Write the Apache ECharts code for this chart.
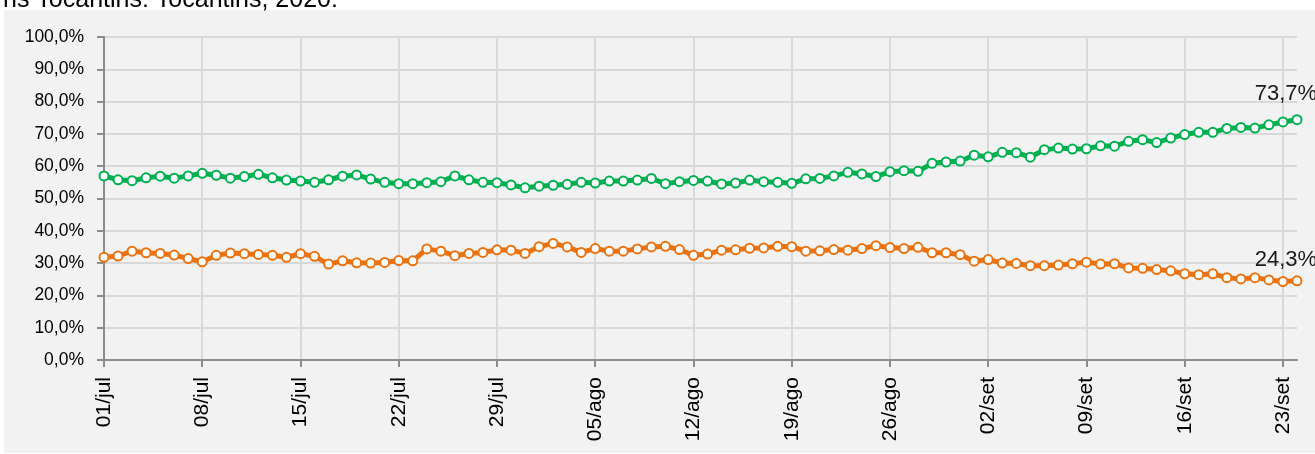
<!DOCTYPE html>
<html>
<head>
<meta charset="utf-8">
<script src="https://cdn.jsdelivr.net/npm/echarts@6/dist/echarts.min.js"></script>
<style>
html,body{margin:0;padding:0;background:#ffffff;}
#panel{position:absolute;left:4px;top:10px;width:1311px;height:443px;background:#f2f2f2;}
#chart{position:absolute;left:0;top:0;width:1315px;height:454px;}
</style>
</head>
<body>
<div id="panel"></div>
<div id="chart"></div>
<script>
var titleText = 'ns Tocantins: Tocantins, 2020:';

var categories = [
 '01/jul','02/jul','03/jul','04/jul','05/jul','06/jul','07/jul','08/jul','09/jul','10/jul',
 '11/jul','12/jul','13/jul','14/jul','15/jul','16/jul','17/jul','18/jul','19/jul','20/jul',
 '21/jul','22/jul','23/jul','24/jul','25/jul','26/jul','27/jul','28/jul','29/jul','30/jul','31/jul',
 '01/ago','02/ago','03/ago','04/ago','05/ago','06/ago','07/ago','08/ago','09/ago','10/ago',
 '11/ago','12/ago','13/ago','14/ago','15/ago','16/ago','17/ago','18/ago','19/ago','20/ago',
 '21/ago','22/ago','23/ago','24/ago','25/ago','26/ago','27/ago','28/ago','29/ago','30/ago','31/ago',
 '01/set','02/set','03/set','04/set','05/set','06/set','07/set','08/set','09/set','10/set',
 '11/set','12/set','13/set','14/set','15/set','16/set','17/set','18/set','19/set','20/set',
 '21/set','22/set','23/set','24/set'
];

var greenSeries = [
 57.0,55.8,55.5,56.4,56.9,56.3,57.0,57.8,57.2,56.3,
 56.8,57.5,56.4,55.7,55.4,55.0,55.8,56.9,57.3,56.0,
 55.0,54.6,54.6,54.9,55.2,57.0,55.8,55.0,54.9,54.2,
 53.3,53.8,54.1,54.4,55.0,54.8,55.4,55.4,55.7,56.2,
 54.6,55.2,55.6,55.4,54.5,54.8,55.7,55.2,55.0,54.7,
 56.1,56.2,57.0,58.1,57.6,56.8,58.3,58.6,58.4,60.9,
 61.3,61.6,63.4,62.9,64.3,64.2,62.8,65.1,65.6,65.3,
 65.4,66.3,66.2,67.7,68.2,67.3,68.7,69.8,70.5,70.5,
 71.7,72.0,71.8,72.8,73.7,74.4
];

var orangeSeries = [
 31.8,32.2,33.7,33.2,33.0,32.5,31.4,30.4,32.4,33.1,
 32.9,32.7,32.4,31.8,32.9,32.1,29.7,30.7,30.1,30.0,
 30.2,30.8,30.7,34.4,33.7,32.3,33.0,33.3,34.1,34.0,
 33.0,35.1,36.1,35.0,33.3,34.5,33.7,33.7,34.4,35.0,
 35.2,34.2,32.4,32.8,34.0,34.1,34.6,34.7,35.2,35.1,
 33.7,33.8,34.2,34.0,34.5,35.4,34.8,34.5,34.9,33.2,
 33.2,32.6,30.6,31.1,30.0,29.9,29.2,29.2,29.4,29.8,
 30.3,29.7,29.8,28.5,28.4,28.0,27.6,26.7,26.4,26.7,
 25.5,25.1,25.5,24.8,24.3,24.5
];

var labelIndex = 84;
var greenLabel = '73,7%';
var orangeLabel = '24,3%';

var FONT = 'Liberation Sans';
var chart = echarts.init(document.getElementById('chart'), null, {renderer: 'canvas'});

function mkSeries(data, color, text, dist) {
  return {
    type: 'line',
    data: data,
    smooth: false,
    symbol: 'circle',
    symbolSize: 9,
    lineStyle: {color: color, width: 5},
    itemStyle: {color: '#ffffff', borderColor: color, borderWidth: 2},
    label: {
      show: true,
      position: 'top',
      distance: dist,
      offset: [3, 0],
      fontFamily: FONT,
      fontSize: 22,
      color: '#1a1a1a',
      formatter: function (p) { return p.dataIndex === labelIndex ? text : ''; }
    },
    emphasis: {disabled: true},
    animation: false,
    z: 3
  };
}

chart.setOption({
  backgroundColor: 'transparent',
  animation: false,
  title: {
    text: titleText,
    left: -2,
    top: -17,
    textStyle: {fontFamily: FONT, fontSize: 25, fontWeight: 'normal', color: '#000000'}
  },
  grid: {left: 104, right: 18, top: 37, bottom: 94, containLabel: false},
  xAxis: {
    type: 'category',
    data: categories,
    boundaryGap: false,
    axisLine: {show: true, lineStyle: {color: '#8c8c8c', width: 2}},
    axisTick: {show: true, interval: 6, length: 7, lineStyle: {color: '#8c8c8c', width: 2}},
    axisLabel: {
      interval: 6, rotate: 90, margin: 17,
      fontFamily: FONT, fontSize: 21, color: '#000000'
    },
    splitLine: {show: true, interval: 6, lineStyle: {color: '#d9d9d9', width: 2}}
  },
  yAxis: {
    type: 'value',
    min: 0, max: 100, interval: 10,
    axisLine: {show: true, lineStyle: {color: '#8c8c8c', width: 2}},
    axisTick: {show: true, length: 7, lineStyle: {color: '#8c8c8c', width: 2}},
    axisLabel: {
      margin: 20,
      fontFamily: FONT, fontSize: 17.5, color: '#000000',
      formatter: function (v) { return v.toFixed(1).replace('.', ',') + '%'; }
    },
    splitLine: {show: true, lineStyle: {color: '#d9d9d9', width: 2}}
  },
  series: [
    mkSeries(greenSeries, '#00b050', greenLabel, 12),
    mkSeries(orangeSeries, '#e97311', orangeLabel, 5)
  ]
});
</script>
</body>
</html>
